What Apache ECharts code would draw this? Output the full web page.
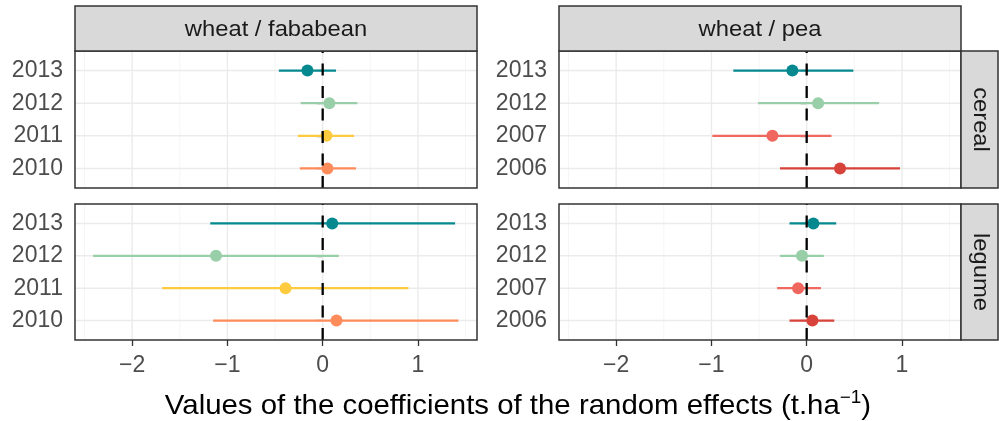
<!DOCTYPE html>
<html><head><meta charset="utf-8">
<script src="https://cdn.jsdelivr.net/npm/echarts@6/dist/echarts.min.js"></script>
<style>html,body{margin:0;padding:0;background:#fff}#c{width:999px;height:421px}</style>
</head><body><div id="c"></div>
<script>
// ---- data ----
const columnLabels = ['wheat / fababean', 'wheat / pea'];
const rowLabels = ['cereal', 'legume'];
const yearsFababean = ['2013', '2012', '2011', '2010'];
const yearsPea = ['2013', '2012', '2007', '2006'];

const estFababeanCereal = [-0.16, 0.07, 0.04, 0.05];
const lowFababeanCereal = [-0.46, -0.23, -0.26, -0.24];
const highFababeanCereal = [0.14, 0.365, 0.33, 0.35];

const estPeaCereal = [-0.15, 0.12, -0.36, 0.35];
const lowPeaCereal = [-0.77, -0.51, -0.99, -0.28];
const highPeaCereal = [0.49, 0.76, 0.26, 0.98];

const estFababeanLegume = [0.10, -1.12, -0.39, 0.145];
const lowFababeanLegume = [-1.18, -2.41, -1.685, -1.15];
const highFababeanLegume = [1.39, 0.17, 0.90, 1.425];

const estPeaLegume = [0.07, -0.05, -0.09, 0.06];
const lowPeaLegume = [-0.18, -0.28, -0.31, -0.18];
const highPeaLegume = [0.31, 0.18, 0.15, 0.29];

const xTicks = [-2, -1, 0, 1];
const xMinorGrid = [-2.5, -1.5, -0.5, 0.5, 1.5];
const xLimits = [-2.6, 1.62];
const referenceValue = 0;
const axisTitleMain = 'Values of the coefficients of the random effects (t.ha';
const axisTitleSup = '\u22121';
const axisTitleEnd = ')';

// ---- styles ----
const yearColors = {
  '2013': '#05898f', '2012': '#98cfa8', '2011': '#fecb3e', '2010': '#fe8b5a',
  '2007': '#f0675f', '2006': '#d7433a'
};
const FONT = '"Liberation Sans", Arial, sans-serif';
const yMin = 0.4, yMax = 4.6;

const panels = [
  { col: 0, row: 0, years: yearsFababean, est: estFababeanCereal, low: lowFababeanCereal, high: highFababeanCereal, rect: [75, 51, 402, 137] },
  { col: 1, row: 0, years: yearsPea, est: estPeaCereal, low: lowPeaCereal, high: highPeaCereal, rect: [559, 51, 402, 137] },
  { col: 0, row: 1, years: yearsFababean, est: estFababeanLegume, low: lowFababeanLegume, high: highFababeanLegume, rect: [75, 204, 402, 136] },
  { col: 1, row: 1, years: yearsPea, est: estPeaLegume, low: lowPeaLegume, high: highPeaLegume, rect: [559, 204, 402, 136] }
];

const grid = [], xAxis = [], yAxis = [], series = [], graphic = [];
const minus = v => String(v).replace('-', '\u2212');

panels.forEach((p, i) => {
  const [l, t, w, h] = p.rect;
  grid.push({ left: l, top: t, width: w, height: h, show: true, backgroundColor: '#fff', borderWidth: 0 });
  xAxis.push({
    gridIndex: i, type: 'value', min: xLimits[0], max: xLimits[1],
    axisLine: { show: false }, splitLine: { show: false },
    axisTick: { show: p.row === 1, customValues: xTicks, length: 6, lineStyle: { color: '#333333', width: 1.3 } },
    axisLabel: { show: p.row === 1, customValues: xTicks, formatter: minus, color: '#4d4d4d', fontSize: 23, fontFamily: FONT, margin: 14 }
  });
  const ticks = p.years.map((_, k) => p.years.length - k);
  yAxis.push({
    gridIndex: i, type: 'value', min: yMin, max: yMax,
    axisLine: { show: false }, splitLine: { show: false },
    axisTick: { show: true, customValues: ticks, length: 6, lineStyle: { color: '#333333', width: 1.3 } },
    axisLabel: { customValues: ticks, formatter: v => p.years[p.years.length - v], color: '#4d4d4d', fontSize: 23, fontFamily: FONT, margin: 12 }
  });
  // minor vertical grid
  series.push({
    type: 'custom', xAxisIndex: i, yAxisIndex: i, silent: true, z: 1,
    data: xMinorGrid.map(v => [v, yMin]),
    renderItem: (params, api) => {
      const a = api.coord([api.value(0), yMin]), b = api.coord([api.value(0), yMax]);
      return { type: 'line', shape: { x1: a[0], y1: a[1], x2: b[0], y2: b[1] }, style: { stroke: '#f0f0f0', lineWidth: 0.7 } };
    }
  });
  // major vertical grid
  series.push({
    type: 'custom', xAxisIndex: i, yAxisIndex: i, silent: true, z: 1,
    data: xTicks.map(v => [v, yMin]),
    renderItem: (params, api) => {
      const a = api.coord([api.value(0), yMin]), b = api.coord([api.value(0), yMax]);
      return { type: 'line', shape: { x1: a[0], y1: a[1], x2: b[0], y2: b[1] }, style: { stroke: '#ebebeb', lineWidth: 1.4 } };
    }
  });
  // horizontal grid
  series.push({
    type: 'custom', xAxisIndex: i, yAxisIndex: i, silent: true, z: 1,
    data: ticks.map(v => [xLimits[0], v]),
    renderItem: (params, api) => {
      const a = api.coord([xLimits[0], api.value(1)]), b = api.coord([xLimits[1], api.value(1)]);
      return { type: 'line', shape: { x1: a[0], y1: a[1], x2: b[0], y2: b[1] }, style: { stroke: '#ebebeb', lineWidth: 1.4 } };
    }
  });
  // point ranges
  series.push({
    type: 'custom', xAxisIndex: i, yAxisIndex: i, silent: true, z: 3,
    encode: { x: [0, 2, 3], y: 1 },
    data: p.years.map((yr, k) => [p.est[k], p.years.length - k, p.low[k], p.high[k], k]),
    renderItem: (params, api) => {
      const k = api.value(4);
      const col = yearColors[p.years[k]];
      const c = api.coord([api.value(0), api.value(1)]);
      const a = api.coord([api.value(2), api.value(1)]);
      const b = api.coord([api.value(3), api.value(1)]);
      return {
        type: 'group', children: [
          { type: 'line', shape: { x1: a[0], y1: a[1], x2: b[0], y2: b[1] }, style: { stroke: col, lineWidth: 2.2 } },
          { type: 'circle', shape: { cx: c[0], cy: c[1], r: 6 }, style: { fill: col } }
        ]
      };
    }
  });
  // dashed reference line
  series.push({
    type: 'line', xAxisIndex: i, yAxisIndex: i, silent: true, z: 5, symbol: 'none',
    data: [[referenceValue, yMin], [referenceValue, yMax]],
    lineStyle: { color: '#000', width: 2.3, type: [12, 10.5] }
  });
  // panel border
  graphic.push({ type: 'rect', z: 100, shape: { x: l, y: t, width: w, height: h }, style: { fill: 'none', stroke: '#333333', lineWidth: 1.5 } });
  if (p.row === 0) {
    graphic.push({ type: 'rect', z: 100, shape: { x: l, y: 6, width: w, height: t - 6 }, style: { fill: '#d9d9d9', stroke: '#333333', lineWidth: 1.5 } });
    graphic.push({ type: 'text', z: 101, x: l + w / 2, y: 29.5, scaleX: 1.08, style: { text: columnLabels[p.col], font: '22px ' + FONT, fill: '#1a1a1a', align: 'center', verticalAlign: 'middle' } });
  }
  if (p.col === 1) {
    graphic.push({ type: 'rect', z: 100, shape: { x: l + w, y: t, width: 998 - (l + w), height: h }, style: { fill: '#d9d9d9', stroke: '#333333', lineWidth: 1.5 } });
    graphic.push({ type: 'text', z: 101, x: (l + w + 998) / 2 + 1, y: t + h / 2, rotation: -Math.PI / 2, scaleX: 1.08, style: { text: rowLabels[p.row], font: '22px ' + FONT, fill: '#1a1a1a', align: 'center', verticalAlign: 'middle' } });
  }
});

graphic.push({
  type: 'text', z: 101, x: 518, y: 406, scaleX: 1.05,
  style: {
    text: '{a|' + axisTitleMain + '}{s|' + axisTitleSup + '}{a|' + axisTitleEnd + '}',
    align: 'center', verticalAlign: 'middle',
    rich: {
      a: { fontSize: 28, fontFamily: FONT, fill: '#000', lineHeight: 33 },
      s: { fontSize: 18, fontFamily: FONT, fill: '#000', lineHeight: 18, verticalAlign: 'top' }
    }
  }
});

const chart = echarts.init(document.getElementById('c'), null, { renderer: 'canvas' });
chart.setOption({ animation: false, grid, xAxis, yAxis, series, graphic });
</script></body></html>
